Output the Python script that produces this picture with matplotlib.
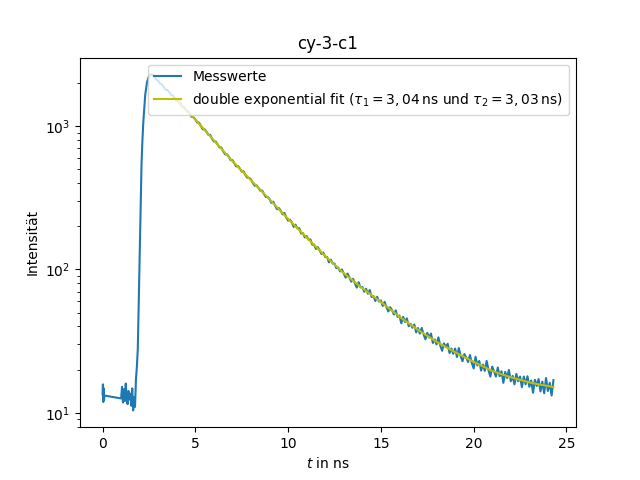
import numpy as np
import matplotlib
matplotlib.use("Agg")
import matplotlib.pyplot as plt

pre_t = [0.0, 0.02, 0.04, 0.06, 0.08, 0.10,
         1.00, 1.05, 1.10, 1.15, 1.20, 1.25, 1.30, 1.35, 1.40, 1.45,
         1.50, 1.55, 1.60, 1.65, 1.70, 1.75]
pre_y = [13.5, 15.8, 11.9, 14.9, 12.3, 13.2,
         12.6, 15.2, 11.8, 14.6, 12.1, 16.0, 13.0, 11.5, 14.2, 12.4,
         13.6, 11.2, 14.8, 10.4, 12.9, 11.0]

rise_t = [1.80, 1.85, 1.90, 1.95, 2.00, 2.05, 2.10, 2.15, 2.20, 2.30, 2.40, 2.50, 2.60]
rise_y = [17, 21, 28, 60, 140, 290, 540, 800, 1080, 1650, 2030, 2220, 2290]

# decay sampled every 0.1 ns from 2.7 ns to 24.3 ns
decay_start, decay_stop = 2.7, 24.3
decay_y = [
    2270, 2211, 2104,
    2066, 1977, 1952, 1864, 1789, 1778, 1716, 1646, 1627, 1556,
    1499, 1487, 1426, 1362, 1346, 1290, 1269, 1208, 1161, 1151,
    1112, 1057, 1055, 999, 949, 949, 913, 869, 867, 815,
    780, 779, 744, 709, 708, 668, 636, 635, 612, 579,
    578, 550, 523, 526, 505, 482, 483, 455, 436, 435,
    424, 401, 383, 386, 371, 354, 355, 335, 320, 320,
    310, 291, 297, 278, 263, 268, 257, 242, 248, 230,
    219, 222, 213, 198, 205, 193, 194, 178, 179, 167,
    171, 161, 162, 149, 149, 139, 143, 136, 128, 131,
    122, 122, 112, 117, 110, 110, 102, 103, 96.9, 99.9,
    93.5, 87.7, 93.6, 88.4, 82.2, 85.9, 80.2, 74.7, 81.5, 75.0,
    75.5, 69.9, 73.3, 67.7, 71.8, 64.2, 65.3, 60.2, 64.5, 59.7,
    60.8, 55.6, 59.4, 54.6, 50.9, 54.5, 52.0, 48.5, 51.8, 46.7,
    47.7, 42.1, 46.7, 43.0, 45.6, 40.2, 41.8, 39.2, 41.3, 36.4,
    39.0, 35.7, 39.1, 35.3, 32.6, 36.1, 33.5, 35.7, 30.7, 32.5,
    30.0, 33.6, 29.4, 27.1, 30.5, 28.8, 30.3, 26.1, 28.1, 25.8,
    28.1, 24.5, 28.3, 24.8, 22.9, 25.7, 24.3, 22.6, 25.3, 22.3,
    20.4, 24.6, 21.4, 23.0, 19.7, 21.7, 19.6, 23.0, 19.8, 17.9,
    21.0, 19.4, 17.9, 20.7, 18.0, 19.5, 16.2, 19.3, 17.5, 19.9,
    16.6, 18.1, 15.8, 18.7, 16.6, 17.9, 15.1, 17.9, 15.8, 18.0,
    15.2, 16.8, 13.8, 17.0, 15.4, 17.2, 14.1, 16.5, 13.7, 17.5,
    14.2, 16.2, 13.2, 16.9,
]

# --- fit curve values ---
fit_t = [4.0, 4.5, 5.0, 5.5, 6.0, 6.5, 7.0, 7.5, 8.0, 8.5, 9.0, 9.5, 10.0,
         10.5, 11.0, 11.5, 12.0, 12.5, 13.0, 13.5, 14.0, 14.5, 15.0, 15.5,
         16.0, 16.5, 17.0, 17.5, 18.0, 18.5, 19.0, 19.5, 20.0, 20.5, 21.0,
         21.5, 22.0, 22.5, 23.0, 23.5, 24.0, 24.3]
fit_y = [1514, 1296, 1109, 938, 794, 672, 569, 488, 418, 359, 308, 263, 225,
         194, 167, 144, 124, 108, 94, 83.4, 74, 66.2, 59.3, 52.7,
         46.8, 42.1, 37.9, 34.4, 31.3, 28.8, 26.5, 24.5, 22.7, 21.1, 19.6,
         18.6, 17.7, 17.0, 16.3, 15.8, 15.4, 15.1]

decay_t = np.linspace(decay_start, decay_stop, len(decay_y))
t_all = np.concatenate([pre_t, rise_t, decay_t])
y_all = np.concatenate([pre_y, rise_y, decay_y])

fig, ax = plt.subplots(figsize=(6.4, 4.8), dpi=100)
ax.plot(t_all, y_all, color="C0", label="Messwerte")
ax.plot(fit_t, fit_y, color="y",
        label=r"double exponential fit ($\tau_1 = 3,04\,\mathrm{ns}$ und $\tau_2 = 3,03\,\mathrm{ns}$)")
ax.set_yscale("log")
ax.set_title("cy-3-c1")
ax.set_xlabel(r"$t$ in ns")
ax.set_ylabel("Intensität")
ax.legend(loc="upper right")
fig.savefig("out.png", dpi=100)
